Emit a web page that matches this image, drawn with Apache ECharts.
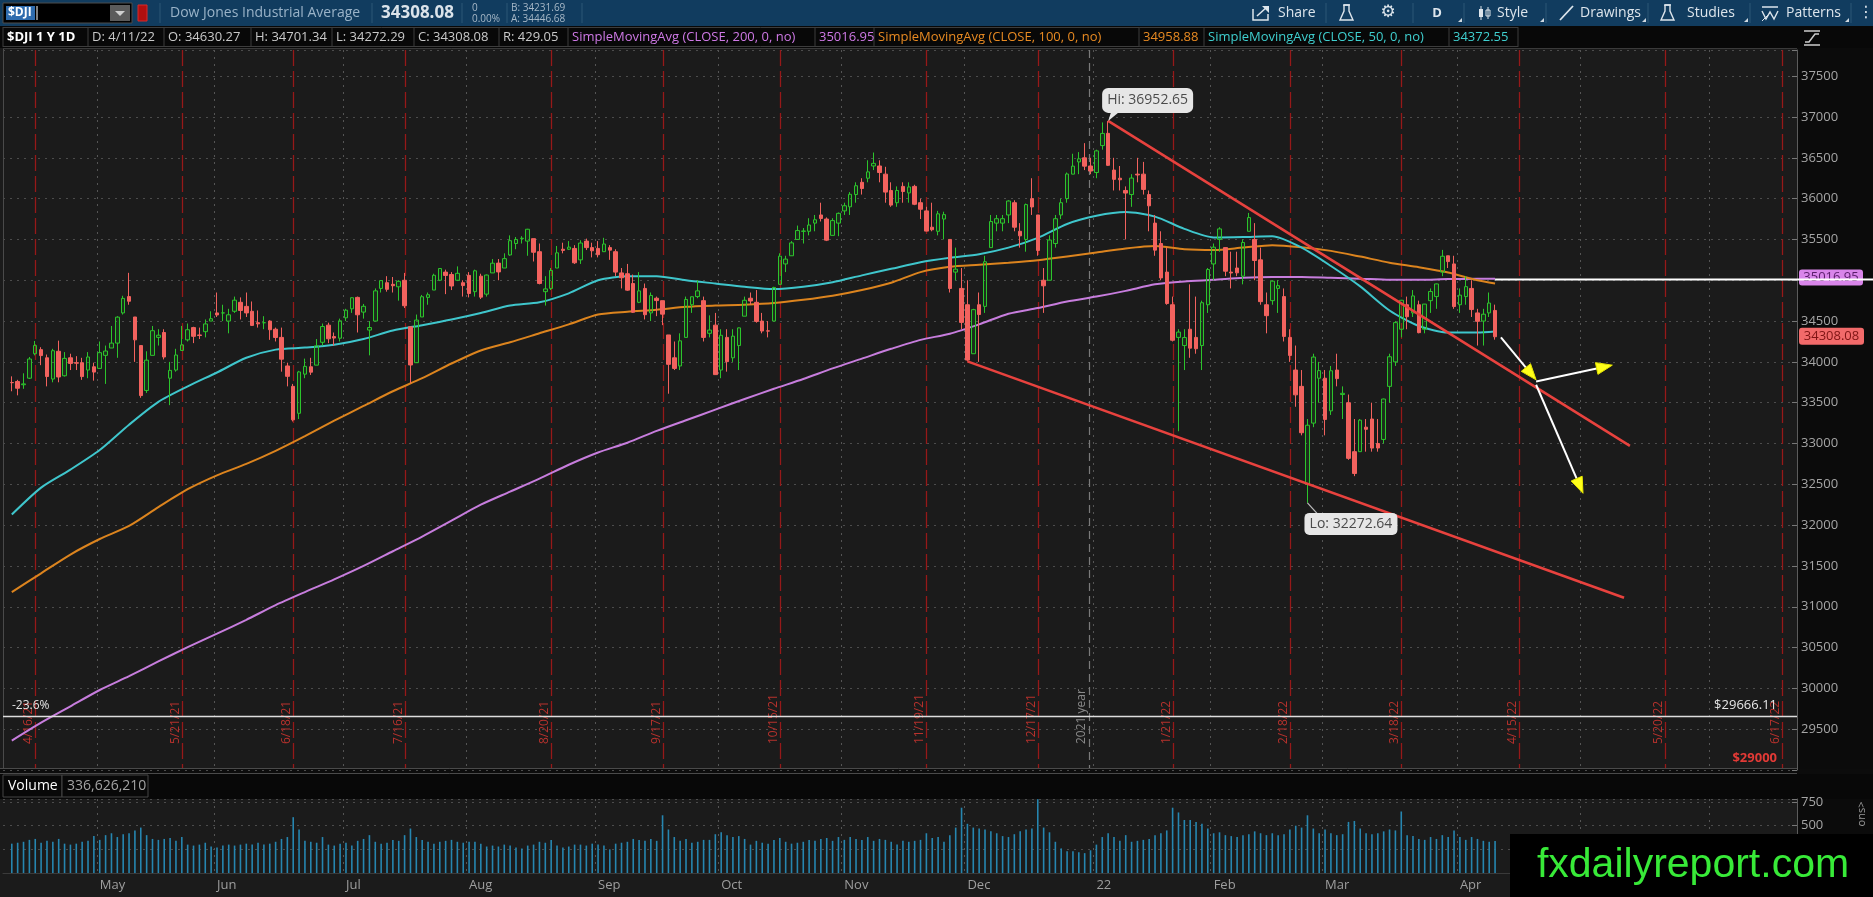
<!DOCTYPE html>
<html>
<head>
<meta charset="utf-8">
<title>$DJI 1 Y 1D</title>
<script src="https://cdn.jsdelivr.net/npm/echarts@6/dist/echarts.min.js"></script>
<style>
html, body { margin: 0; padding: 0; background: #1b1b1b; overflow: hidden; }
#chart { width: 1873px; height: 897px; }
</style>
</head>
<body>
<div id="chart"></div>
<script>
// ---- calendar ----
var holidays = ['2021-05-31', '2021-07-05', '2021-09-06', '2021-11-25', '2021-12-24', '2022-01-17', '2022-02-21'];
var firstDay = '2021-04-12', lastDay = '2022-04-11';
var futureCount = 51;

// ---- daily candles [open, high, low, close] ----
var ohlc = [
  // Apr 2021
  [33747,33823,33640,33745],[33760,33780,33590,33677],[33720,33860,33670,33730],[33800,34060,33790,34035],[34100,34256,34080,34200],
  [34150,34180,33960,34077],[34050,34090,33700,33821],[33790,34160,33750,34137],[34130,34260,33750,33815],[33830,34120,33820,34043],
  [34050,34100,33900,33981],[33990,34070,33900,33984],[33990,34050,33780,33820],[33900,34120,33800,34060],[33940,33990,33770,33875],
  // May
  [33920,34250,33920,34113],[34080,34200,33730,34133],[34170,34440,34170,34230],[34230,34560,34050,34548],[34600,34810,34580,34778],
  [34800,35091,34700,34743],[34550,34550,34000,34270],[34200,34200,33560,33587],[33650,34130,33620,34021],[34080,34440,34080,34382],
  [34300,34400,34200,34327],[34360,34400,34030,34060],[33800,34000,33470,33896],[33900,34160,33880,34084],[34140,34440,34140,34208],
  [34270,34470,34250,34394],[34420,34430,34230,34313],[34330,34420,34280,34323],[34370,34520,34300,34465],[34500,34620,34500,34529],
  // Jun
  [34600,34850,34550,34575],[34600,34700,34500,34600],[34500,34650,34350,34577],[34620,34800,34600,34756],
  [34730,34790,34520,34630],[34680,34850,34550,34600],[34620,34740,34440,34447],[34480,34630,34420,34466],[34480,34560,34400,34480],
  [34500,34510,34270,34394],[34400,34420,34250,34299],[34300,34420,33880,34033],[33950,33990,33700,33823],[33700,33730,33270,33290],
  [33370,33890,33300,33877],[33850,34040,33800,33945],[33940,34050,33840,33874],[33960,34280,33960,34196],[34240,34470,34200,34433],
  [34450,34480,34230,34283],[34310,34360,34200,34292],[34290,34530,34250,34503],
  // Jul
  [34540,34650,34500,34633],[34650,34790,34600,34786],
  [34790,34800,34360,34577],[34610,34710,34530,34681],[34390,34500,34080,34421],[34500,34900,34500,34870],
  [34900,35000,34850,34996],[34970,35050,34860,34889],[34950,35040,34850,34933],[34920,35000,34750,34987],[35000,35090,34660,34688],
  [34430,34430,33740,33962],[33990,34580,33990,34512],[34550,34820,34550,34798],[34790,34850,34700,34823],[34880,35080,34880,35061],
  [35000,35150,34990,35144],[35100,35130,34830,35059],[35070,35100,34880,34930],[35000,35170,34990,35085],[34970,35000,34800,34935],
  // Aug
  [35060,35100,34790,34838],[34860,35130,34800,35116],[35050,35080,34770,34793],[34830,35070,34800,35064],[35090,35260,35090,35209],
  [35210,35260,35000,35102],[35150,35330,35150,35265],[35310,35550,35300,35485],[35450,35530,35380,35500],[35510,35540,35450,35515],
  [35480,35630,35300,35625],[35510,35510,35230,35343],[35350,35450,34950,34961],[34860,35050,34690,34894],[34900,35150,34880,35120],
  [35150,35420,35150,35336],[35380,35460,35330,35366],[35380,35480,35370,35406],[35390,35430,35200,35214],[35250,35490,35200,35456],
  [35480,35510,35370,35400],[35400,35460,35280,35361],
  // Sep
  [35390,35480,35280,35313],[35350,35520,35350,35444],[35400,35430,35250,35369],
  [35350,35380,35050,35100],[35090,35150,34900,35031],[35080,35200,34870,34879],[34960,35070,34600,34608],
  [34730,35100,34720,34870],[34900,34960,34520,34578],[34600,34850,34500,34814],[34780,34800,34560,34751],[34750,34750,34450,34585],
  [34330,34330,33610,33970],[34050,34250,33900,33920],[33950,34350,33900,34258],[34300,34800,34300,34765],[34700,34800,34600,34798],
  [34800,35000,34780,34870],[34750,34800,34250,34300],[34350,34570,34300,34390],[34450,34600,33840,33844],
  // Oct
  [33900,34400,33800,34326],
  [34300,34400,33880,34003],[34050,34400,34000,34315],[34200,34420,33900,34417],[34560,34800,34560,34755],[34780,34850,34700,34746],
  [34730,34880,34480,34496],[34500,34600,34350,34378],[34380,34500,34300,34377],[34500,34920,34500,34912],[34950,35330,34950,35295],
  [35200,35300,35100,35259],[35300,35480,35300,35458],[35500,35670,35500,35609],[35600,35640,35450,35603],[35600,35760,35550,35677],
  [35700,35800,35600,35741],[35800,35950,35720,35757],[35750,35770,35480,35491],[35550,35760,35550,35731],[35700,35830,35540,35820],
  // Nov
  [35850,35950,35800,35913],[35900,36080,35800,36053],[36050,36200,35950,36158],[36200,36250,36050,36124],[36250,36470,36200,36328],
  [36400,36565,36350,36432],[36400,36470,36200,36320],[36300,36390,35950,36080],[36100,36200,35900,35921],[35950,36150,35900,36100],
  [36150,36200,35950,36087],[36070,36200,35950,36143],[36150,36170,35920,35931],[35950,36000,35750,35870],[35850,35900,35600,35602],
  [35650,35950,35600,35619],[35600,35850,35550,35814],[35750,35840,35500,35804],[35500,35500,34850,34899],
  [35100,35400,35000,35136],[34900,35150,34400,34484],
  // Dec
  [34700,35000,34006,34022],[34100,34650,34100,34640],[34700,34850,34000,34580],
  [34680,35300,34600,35227],[35400,35800,35400,35720],[35700,35800,35600,35754],[35700,35800,35600,35754],[35800,35980,35700,35971],
  [35950,35980,35600,35650],[35600,35700,35400,35544],[35500,35940,35350,35927],[36000,36250,35800,35898],[35800,35800,35300,35365],
  [35000,35150,34600,34932],[35000,35550,35000,35493],[35450,35800,35400,35754],[35800,36000,35750,35950],
  [36000,36320,35950,36302],[36300,36550,36300,36398],[36450,36570,36300,36488],[36500,36680,36350,36398],[36400,36500,36300,36338],
  // Jan 2022
  [36320,36600,36250,36585],[36650,36934,36600,36799],[36800,36952.65,36400,36408],[36350,36500,36100,36236],[36250,36400,36100,36231],
  [36100,36150,35500,36068],[36050,36300,35900,36252],[36300,36500,36200,36290],[36300,36450,36050,36113],[36050,36100,35600,35912],
  [35700,35800,35300,35369],[35450,35600,35000,35029],[35100,35400,34700,34715],[34700,34800,34250,34265],
  [34300,34400,33150,34365],[34200,34400,33900,34298],[34400,34950,34050,34168],[34300,34800,34100,34161],[34200,34750,33900,34725],
  [34700,35150,34600,35132],
  // Feb
  [35200,35450,35000,35405],[35500,35650,35350,35629],[35400,35400,35050,35111],[35100,35350,34900,35089],
  [35150,35350,35050,35091],[35050,35500,34950,35463],[35600,35825,35600,35768],[35500,35700,35000,35242],[35250,35400,34700,34738],
  [34700,34850,34350,34566],[34750,35000,34700,34989],[34900,35000,34600,34934],[34800,34900,34250,34312],[34300,34400,34000,34079],
  [33900,34200,33450,33596],[33700,33900,33100,33132],[32500,33300,32272.64,33224],[33250,34100,33200,34059],
  [33800,34000,33500,33893],
  // Mar
  [33800,33900,33100,33295],[33400,33950,33350,33891],[33900,34100,33700,33795],[33600,33700,33300,33615],
  [33500,33600,32800,32818],[32900,33300,32600,32633],[32900,33300,32900,33286],[33200,33300,32900,33174],[33300,33500,32900,32944],
  [33000,33300,32900,32945],[33050,33550,33000,33545],[33700,34100,33500,34063],[34000,34500,33950,34481],[34400,34760,34300,34755],
  [34700,34800,34400,34553],[34600,34880,34550,34808],[34700,34750,34350,34358],[34400,34710,34350,34708],[34750,34900,34600,34862],
  [34800,34960,34650,34955],[35100,35372,35050,35294],[35300,35300,35150,35229],[35200,35300,34650,34678],
  // Apr
  [34700,34900,34600,34818],
  [34800,35050,34700,34922],[34900,35000,34550,34641],[34600,34650,34200,34497],[34500,34650,34200,34584],[34600,34850,34550,34721],
  [34630.27,34701.34,34272.29,34308.08]
];

// ---- daily volume, millions ----
var volume = [
  310,320,330,350,360, 320,340,330,360,310, 300,310,330,340,390,
  350,400,420,380,410, 420,450,480,400,360, 350,360,370,340,380, 300,290,300,320,280,
  270,290,300,290, 300,310,300,320,300, 310,330,360,380,590, 460,340,330,320,380, 300,290,310,
  320,290, 340,360,400,330, 310,320,350,340,400, 470,380,350,330,310, 330,340,350,330,320,
  330,330,310,280,290, 280,300,290,270,260, 290,300,330,320,350, 290,270,280,300,300, 290,310,
  300,290,250, 310,320,330,360, 350,340,360,340,610, 460,380,340,360,320, 330,350,350,410,
  430, 400,380,390,360,300, 340,320,310,350,370, 330,310,320,330,350, 340,360,370,340,380,
  350,380,360,350,380, 340,360,350,330,300, 340,330,340,350,420, 370,380,330,400, 480,690,
  520,480,470, 460,440,420,390,380, 410,440,460,470,780, 480,430,330,260, 230,230,220,210,240,
  300,380,420,380,340, 400,330,340,350,360, 400,420,450,690, 640,560,560,540,520, 470,
  420,430,400,390, 380,400,410,440,420, 400,420,400,410,460, 500,480,610,470, 420,
  460,420,400,410, 540,550,470,420,410, 420,440,460,450,650, 400,390,360,350,380, 360,400,380,450,
  380, 350,380,360,340,330, 337
];

// ---- moving averages read every 5th trading day (index into trading days) ----
var smaIdx = [0,5,10,15,20,25,30,35,40,45,50,55,60,65,70,75,80,85,90,95,100,105,110,115,120,125,
  130,135,140,145,150,155,160,165,170,175,180,185,190,195,200,205,210,215,220,225,230,235,240,245,250,253];
var sma50 = [32130,32460,32680,32920,33230,33510,33700,33870,34050,34150,34175,34210,34280,34385,34450,34520,
  34600,34690,34730,34840,35000,35050,35050,35000,34960,34920,34892,34920,34975,35060,35140,35220,35275,35320,
  35400,35520,35690,35790,35836,35780,35630,35525,35530,35540,35400,35175,34925,34630,34440,34360,34360,34373];
var sma100 = [31180,31410,31640,31830,31990,32220,32440,32610,32750,32910,33090,33280,33460,33640,33800,33980,
  34140,34240,34350,34460,34580,34615,34640,34675,34690,34700,34720,34760,34810,34880,34970,35100,35165,35190,
  35215,35245,35290,35340,35390,35420,35380,35370,35400,35430,35405,35360,35290,35215,35160,35095,35000,34959];
var sma200 = [29360,29580,29780,29980,30150,30330,30505,30670,30840,31020,31180,31335,31500,31680,31860,32055,
  32250,32410,32570,32740,32890,33010,33155,33285,33415,33545,33670,33790,33920,34040,34160,34270,34345,34460,
  34590,34660,34740,34800,34870,34950,34985,35005,35030,35040,35040,35030,35020,35005,35005,35015,35017,35017];

// ---- drawings ----
var expiries = ['2021-04-16','2021-05-21','2021-06-18','2021-07-16','2021-08-20','2021-09-17','2021-10-15',
  '2021-11-19','2021-12-17','2022-01-21','2022-02-18','2022-03-18','2022-04-15','2022-05-20','2022-06-17'];
var yearEnd = '2021-12-31';
var hiPoint = ['2022-01-05', 36952.65];
var loPoint = ['2022-02-24', 32272.64];
var upperChannel = [['2022-01-05', 36952.65], ['2022-05-12', 32970]];
var lowerChannel = [['2021-12-01', 34006], ['2022-05-11', 31110]];
var arrows = [
  [['2022-04-12', 34300], ['2022-04-20', 33780]],
  [['2022-04-20', 33760], ['2022-05-09', 33960]],
  [['2022-04-20', 33720], ['2022-05-02', 32390]]
];
var sma200Last = 35016.95, lastClose = 34308.08, fibLevel = 29666.11, alertLevel = 29000;
var monthNames = ['Jan','Feb','Mar','Apr','May','Jun','Jul','Aug','Sep','Oct','Nov','Dec'];

// ---- build categories ----
function ymd(d) { return d.toISOString().slice(0, 10); }
var tradingDays = [];
var cur = new Date(firstDay + 'T00:00:00Z');
var end = new Date(lastDay + 'T00:00:00Z');
while (cur <= end) {
  var wd = cur.getUTCDay(), s = ymd(cur);
  if (wd > 0 && wd < 6 && holidays.indexOf(s) < 0) tradingDays.push(s);
  cur.setUTCDate(cur.getUTCDate() + 1);
}
var futureDays = [];
while (futureDays.length < futureCount) {
  var wd2 = cur.getUTCDay();
  if (wd2 > 0 && wd2 < 6) futureDays.push(ymd(cur));
  cur.setUTCDate(cur.getUTCDate() + 1);
}
var cats = [''].concat(tradingDays, futureDays);
function ci(date) { return cats.indexOf(date); }

var candleData = cats.map(function (c, k) {
  var r = k >= 1 ? ohlc[k - 1] : null;
  return r ? [r[0], r[3], r[2], r[1]] : '-';
});
var volData = cats.map(function (c, k) {
  return (k >= 1 && volume[k - 1] != null) ? volume[k - 1] : '-';
});
function smaLine(vals) {
  var a = cats.map(function () { return '-'; });
  smaIdx.forEach(function (ix, j) { a[ix + 1] = vals[j]; });
  return a;
}

var monthStarts = {};
for (var k = 2; k < cats.length; k++) {
  if (cats[k].slice(0, 7) !== cats[k - 1].slice(0, 7)) monthStarts[cats[k]] = true;
}
function isMonthStart(i, v) { return !!monthStarts[v]; }
function monthLabel(v) {
  var m = +v.slice(5, 7);
  return m === 1 ? v.slice(2, 4) : monthNames[m - 1];
}

var FONT = 'Open Sans';
var chart = echarts.init(document.getElementById('chart'));

chart.setOption({
  backgroundColor: '#1b1b1b',
  animation: false,
  textStyle: { fontFamily: FONT },
  grid: [
    { left: 3, top: 50, width: 1794, height: 720, outerBoundsMode: 'none' },
    { left: 3, top: 799, width: 1794, height: 74, outerBoundsMode: 'none' }
  ],
  xAxis: [
    {
      type: 'category', gridIndex: 0, data: cats, boundaryGap: true,
      axisLine: { show: false }, axisTick: { show: false }, axisLabel: { show: false },
      splitLine: { show: true, interval: isMonthStart, lineStyle: { color: '#555555', type: [2, 5], width: 1 } }
    },
    {
      type: 'category', gridIndex: 1, data: cats, boundaryGap: true,
      axisLine: { show: true, lineStyle: { color: '#3a3a3a' } },
      axisTick: { show: false },
      axisLabel: { show: true, interval: isMonthStart, formatter: monthLabel, color: '#9e9e9e',
        fontSize: 13, fontFamily: FONT, align: 'left', margin: 6 },
      splitLine: { show: true, interval: isMonthStart, lineStyle: { color: '#555555', type: [2, 5], width: 1 } }
    }
  ],
  yAxis: [
    {
      type: 'value', gridIndex: 0, position: 'right', min: 29000, max: 37821, interval: 500,
      axisLine: { show: true, lineStyle: { color: '#5c5c5c' } },
      axisTick: { show: true, inside: true, length: 5, lineStyle: { color: '#777777' } },
      axisLabel: { color: '#a6a6a6', fontSize: 13, fontFamily: FONT, margin: 4,
        formatter: function (v) { return (v % 500 === 0 && v > 29000 && v <= 37500) ? String(v) : ''; } },
      splitLine: { show: true, lineStyle: { color: '#4c4c4c', type: [2, 5], width: 1 } }
    },
    {
      type: 'value', gridIndex: 1, position: 'right', min: 0, max: 782, interval: 250,
      axisLine: { show: true, lineStyle: { color: '#5c5c5c' } },
      axisTick: { show: true, inside: true, length: 5, lineStyle: { color: '#777777' } },
      axisLabel: { color: '#a6a6a6', fontSize: 13, fontFamily: FONT, margin: 4,
        formatter: function (v) { return (v > 0 && v % 250 === 0) ? String(v) : ''; } },
      splitLine: { show: true, lineStyle: { color: '#4c4c4c', type: [2, 5], width: 1 } }
    }
  ],
  series: [
    {
      name: 'SMA200', type: 'line', xAxisIndex: 0, yAxisIndex: 0, data: smaLine(sma200),
      connectNulls: true, smooth: 0.25, symbol: 'none', z: 3,
      lineStyle: { color: '#c77ddd', width: 2 }
    },
    {
      name: 'SMA100', type: 'line', xAxisIndex: 0, yAxisIndex: 0, data: smaLine(sma100),
      connectNulls: true, smooth: 0.25, symbol: 'none', z: 3,
      lineStyle: { color: '#dc841e', width: 2 }
    },
    {
      name: 'SMA50', type: 'line', xAxisIndex: 0, yAxisIndex: 0, data: smaLine(sma50),
      connectNulls: true, smooth: 0.25, symbol: 'none', z: 3,
      lineStyle: { color: '#3fc6cc', width: 2 }
    },
    {
      name: '$DJI', type: 'candlestick', xAxisIndex: 0, yAxisIndex: 0, data: candleData,
      barWidth: 4, z: 4,
      itemStyle: { color: 'rgba(40,190,40,0.12)', color0: '#f2625e', borderColor: '#2cc42c',
        borderColor0: '#f2625e', borderWidth: 1 }
    },
    {
      name: 'upper', type: 'line', xAxisIndex: 0, yAxisIndex: 0, symbol: 'none', z: 5,
      data: upperChannel.map(function (p) { return [ci(p[0]), p[1]]; }),
      lineStyle: { color: '#e8423e', width: 2.6 }
    },
    {
      name: 'lower', type: 'line', xAxisIndex: 0, yAxisIndex: 0, symbol: 'none', z: 5,
      data: lowerChannel.map(function (p) { return [ci(p[0]), p[1]]; }),
      lineStyle: { color: '#e8423e', width: 2.6 }
    },
    {
      name: 'Volume', type: 'bar', xAxisIndex: 1, yAxisIndex: 1, data: volData,
      barWidth: 1.6, itemStyle: { color: '#2686b0' }
    }
  ]
});

// ---------- overlay drawn from the chart's own scales ----------
function pt(date, val) { return chart.convertToPixel({ gridIndex: 0 }, [ci(date), val]); }
function yOf(val) { return chart.convertToPixel({ yAxisIndex: 0 }, val); }
function xOf(date) { return chart.convertToPixel({ xAxisIndex: 0 }, ci(date)); }

function T(x, y, text, o) {
  o = o || {};
  return {
    type: 'text', x: x, y: y, z: o.z == null ? 20 : o.z, rotation: o.rotation || 0, silent: true,
    style: {
      text: text, fill: o.fill || '#d8d8d8', fontSize: o.size || 13, fontFamily: o.family || FONT,
      fontWeight: o.weight || 'normal',
      align: o.align || 'left', textAlign: o.align || 'left',
      verticalAlign: o.valign || 'middle', textVerticalAlign: o.valign || 'middle'
    }
  };
}
function R(x, y, w, h, fill, o) {
  o = o || {};
  return { type: 'rect', z: o.z == null ? -1 : o.z, silent: true,
    shape: { x: x, y: y, width: w, height: h, r: o.r || 0 },
    style: { fill: fill, stroke: o.stroke || null, lineWidth: o.lw || 1 } };
}
function L(x1, y1, x2, y2, color, o) {
  o = o || {};
  return { type: 'line', z: o.z == null ? 1 : o.z, silent: true,
    shape: { x1: x1, y1: y1, x2: x2, y2: y2 },
    style: { stroke: color, lineWidth: o.lw || 1, lineDash: o.dash || null } };
}
function P(points, fill, o) {
  o = o || {};
  return { type: o.open ? 'polyline' : 'polygon', z: o.z == null ? 20 : o.z, silent: true,
    shape: { points: points },
    style: { fill: o.open ? null : fill, stroke: o.stroke || (o.open ? fill : null), lineWidth: o.lw || 1 } };
}

var g = [];
var mainTop = 50, mainBot = 770, plotRight = 1797;

// panels
g.push(R(1797, 48, 76, 849, '#0b0b0b'));
g.push(R(0, 0, 1873, 26, '#113c5f'));
g.push(R(0, 26, 1873, 22, '#080808'));
g.push(R(0, 769, 1873, 5, '#0c0c0c'));
g.push(L(0, 768.5, 1797, 768.5, '#4a4a4a', { z: 6 }));
g.push(L(0, 773.5, 1797, 773.5, '#4a4a4a', { z: 6 }));
g.push(R(0, 774, 1873, 25, '#080808'));
g.push(L(3.5, 48, 3.5, 768, '#4a4a4a', { z: 6 }));
g.push(L(3, 48.5, 1797, 48.5, '#3a3a3a', { z: 6 }));

// toolbar left
g.push(R(3, 3, 129, 20, '#000000', { stroke: '#4d4d4d', z: 10 }));
g.push(R(6, 6, 29, 14, '#2f6cae', { z: 11 }));
g.push(T(8, 13, '$DJI', { fill: '#ffffff', size: 12, weight: 'bold', z: 12 }));
g.push(L(37, 6, 37, 20, '#ffffff', { z: 12 }));
g.push(R(110, 5, 20, 16, '#5b5b5b', { z: 11 }));
g.push(P([[115, 11], [125, 11], [120, 16]], '#cfcfcf', { z: 12 }));
g.push(R(138, 5, 9, 16, '#b00f0f', { stroke: '#d92a2a', z: 11 }));
[160, 372, 462, 507, 582].forEach(function (x) { g.push(L(x, 3, x, 23, '#2c5777', { z: 10 })); });
g.push(T(170, 13, 'Dow Jones Industrial Average', { fill: '#9ab3c8', size: 14, z: 12 }));
g.push(T(381, 13, '34308.08', { fill: '#dbe3ea', size: 17, weight: 'bold', z: 12 }));
g.push(T(472, 8, '0', { fill: '#a7b8c7', size: 10, z: 12 }));
g.push(T(472, 19, '0.00%', { fill: '#a7b8c7', size: 10, z: 12 }));
g.push(T(511, 8, 'B: 34231.69', { fill: '#a7b8c7', size: 10, z: 12 }));
g.push(T(511, 19, 'A: 34446.68', { fill: '#a7b8c7', size: 10, z: 12 }));

// toolbar right
var tb = '#dde5ec';
[1326, 1413, 1464, 1546, 1648, 1750, 1851].forEach(function (x) { g.push(L(x, 3, x, 23, '#2c5777', { z: 10 })); });
[1458, 1540, 1642, 1744, 1845].forEach(function (x) { g.push(P([[x, 22], [x + 4, 22], [x + 4, 18]], '#cfd8e0', { z: 12 })); });
g.push(P([[1253, 9], [1253, 20], [1268, 20], [1268, 14]], tb, { open: true, lw: 1.5, z: 12 }));
g.push(L(1257, 16, 1267, 7, tb, { lw: 1.6, z: 12 }));
g.push(P([[1262, 6], [1269, 6], [1269, 13]], tb, { z: 12 }));
g.push(T(1278, 13, 'Share', { fill: tb, size: 14, z: 12 }));
function flask(x) {
  g.push(P([[x + 4, 5], [x + 9, 5], [x + 9, 11], [x + 13, 20], [x, 20], [x + 4, 11], [x + 4, 5]], tb, { open: true, lw: 1.4, z: 12 }));
  g.push(L(x + 3, 5, x + 10, 5, tb, { lw: 1.4, z: 12 }));
}
flask(1340);
g.push(T(1388, 13, '\u2699', { fill: tb, size: 17, family: 'DejaVu Sans', align: 'center', z: 12 }));
g.push(T(1437, 13, 'D', { fill: tb, size: 13, weight: 'bold', align: 'center', z: 12 }));
g.push(L(1481, 6, 1481, 20, tb, { z: 12 }));
g.push(R(1479, 9, 4, 8, tb, { z: 12 }));
g.push(L(1488, 7, 1488, 19, tb, { z: 12 }));
g.push(R(1486, 10, 4, 6, 'none', { stroke: tb, z: 12 }));
g.push(T(1497, 13, 'Style', { fill: tb, size: 14, z: 12 }));
g.push(L(1560, 20, 1573, 6, tb, { lw: 1.8, z: 12 }));
g.push(T(1580, 13, 'Drawings', { fill: tb, size: 14, z: 12 }));
flask(1661);
g.push(T(1687, 13, 'Studies', { fill: tb, size: 14, z: 12 }));
g.push(L(1762, 7, 1778, 7, tb, { lw: 1.5, z: 12 }));
g.push(P([[1762, 11], [1766, 19], [1770, 12], [1774, 19], [1778, 11]], tb, { open: true, lw: 1.4, z: 12 }));
g.push(L(1762, 21, 1770, 13, tb, { z: 12 }));
g.push(T(1786, 13, 'Patterns', { fill: tb, size: 14, z: 12 }));
g.push(T(1866, 13, '\u22EE', { fill: tb, size: 16, family: 'DejaVu Sans', align: 'center', z: 12 }));

// info bar
var infoCells = [
  [7, '$DJI 1 Y 1D', '#ffffff', 'bold'], [92, 'D: 4/11/22', '#c9c9c9'], [168, 'O: 34630.27', '#c9c9c9'],
  [255, 'H: 34701.34', '#c9c9c9'], [336, 'L: 34272.29', '#c9c9c9'], [418, 'C: 34308.08', '#c9c9c9'],
  [503, 'R: 429.05', '#c9c9c9'], [572, 'SimpleMovingAvg (CLOSE, 200, 0, no)', '#cf79e6'],
  [819, '35016.95', '#cf79e6'], [878, 'SimpleMovingAvg (CLOSE, 100, 0, no)', '#e88a22'],
  [1143, '34958.88', '#e88a22'], [1208, 'SimpleMovingAvg (CLOSE, 50, 0, no)', '#3fcfcf'],
  [1453, '34372.55', '#3fcfcf']
];
infoCells.forEach(function (c) {
  g.push(T(c[0], 37.5, c[1], { fill: c[2], size: 13, weight: c[3] || 'normal', z: 12 }));
});
[3, 88, 164, 251, 332, 414, 499, 568, 815, 874, 1139, 1204, 1449, 1518].forEach(function (x) {
  g.push(L(x, 27, x, 47, '#3d3d3d', { z: 11 }));
});
g.push(L(3, 27.5, 1518, 27.5, '#3d3d3d', { z: 11 }));
g.push(L(3, 46.5, 1518, 46.5, '#3d3d3d', { z: 11 }));
g.push(L(1804, 31, 1820, 31, '#cccccc', { lw: 1.5, z: 12 }));
g.push(L(1804, 45, 1820, 45, '#cccccc', { lw: 1.5, z: 12 }));
g.push(P([[1805, 42], [1809, 42], [1815, 34], [1819, 34]], '#cccccc', { open: true, lw: 1.5, z: 12 }));

// volume header
g.push(R(3, 775, 59, 22, '#080808', { stroke: '#444444', z: 10 }));
g.push(R(62, 775, 86, 22, '#080808', { stroke: '#444444', z: 10 }));
g.push(T(8, 786, 'Volume', { fill: '#ffffff', size: 14, z: 12 }));
g.push(T(67, 786, '336,626,210', { fill: '#a3a3a3', size: 14, z: 12 }));
g.push(T(1862, 814, 'ons>', { fill: '#9a9a9a', size: 11, rotation: Math.PI / 2, align: 'center', z: 12 }));

// expiration lines and labels
expiries.forEach(function (d) {
  var x = Math.round(xOf(d)) + 0.5;
  g.push(L(x, mainTop, x, mainBot - 2, '#961919', { lw: 1.3, dash: [16, 5], z: 1 }));
  var p = d.split('-');
  var lab = (+p[1]) + '/' + (+p[2]) + '/' + p[0].slice(2);
  g.push(T(x - 7, 744, lab, { fill: '#b8322d', size: 12, rotation: Math.PI / 2, z: 2 }));
});
var yx = Math.round(xOf(yearEnd)) - 1.5;
g.push(L(yx, mainTop, yx, mainBot - 2, '#7a7a7a', { lw: 1.2, dash: [8, 5], z: 1 }));
g.push(T(yx - 8, 744, '2021 year', { fill: '#8a8a8a', size: 12, rotation: Math.PI / 2, z: 2 }));

// fib level and alert label
var fy = Math.round(yOf(fibLevel)) + 0.5;
g.push(L(3, fy, plotRight, fy, '#dedede', { lw: 1.6, z: 6 }));
g.push(T(12, fy - 11, '-23.6%', { fill: '#e2e2e2', size: 12, z: 7 }));
g.push(T(1777, fy - 11, '$29666.11', { fill: '#e6e6e6', size: 13, align: 'right', z: 7 }));
g.push(T(1777, yOf(alertLevel) - 12, '$29000', { fill: '#e33a36', size: 13, weight: 'bold', align: 'right', z: 7 }));

// SMA200 level line and axis bubbles
var sy = Math.round(yOf(sma200Last)) + 0.5;
var lastX = xOf(tradingDays[tradingDays.length - 1]);
g.push(R(1799, sy - 10, 64, 16, '#d985ea', { r: 3, z: 8 }));
g.push(T(1831, sy - 2, '35016.95', { fill: '#5a1d6b', size: 13, align: 'center', z: 9 }));
g.push(L(lastX, sy, 1873, sy, '#ffffff', { lw: 2, z: 10 }));
var cy = yOf(lastClose);
g.push(R(1799, cy - 9, 65, 17, '#f26a6a', { r: 3, z: 8 }));
g.push(T(1831.5, cy - 0.5, '34308.08', { fill: '#7e1414', size: 13, align: 'center', z: 9 }));

// hi / lo bubbles
var hp = pt(hiPoint[0], hiPoint[1]);
g.push(R(hp[0] - 6, hp[1] - 33, 91, 25, '#e6e6e6', { r: 6, z: 12 }));
g.push(P([[hp[0], hp[1]], [hp[0] + 3, hp[1] - 9], [hp[0] + 11, hp[1] - 9]], '#e6e6e6', { z: 12 }));
g.push(T(hp[0] + 39.5, hp[1] - 20.5, 'Hi: ' + hiPoint[1].toFixed(2), { fill: '#4b4b4b', size: 14, align: 'center', z: 13 }));
var lp = pt(loPoint[0], loPoint[1]);
g.push(L(lp[0], lp[1], lp[0] + 10, lp[1] + 11, '#bdbdbd', { lw: 1.2, z: 12 }));
g.push(R(lp[0] - 3, lp[1] + 10, 93, 22, '#e6e6e6', { r: 5, z: 12 }));
g.push(T(lp[0] + 43.5, lp[1] + 21, 'Lo: ' + loPoint[1].toFixed(2), { fill: '#4b4b4b', size: 14, align: 'center', z: 13 }));

// forecast arrows
arrows.forEach(function (a) {
  var p1 = pt(a[0][0], a[0][1]), p2 = pt(a[1][0], a[1][1]);
  var ang = Math.atan2(p2[1] - p1[1], p2[0] - p1[0]);
  var len = 16, wid = 6;
  var bx = p2[0] - len * Math.cos(ang), by = p2[1] - len * Math.sin(ang);
  var nx = -Math.sin(ang) * wid, ny = Math.cos(ang) * wid;
  g.push(L(p1[0], p1[1], bx, by, '#ffffff', { lw: 2, z: 14 }));
  g.push(P([[p2[0], p2[1]], [bx + nx, by + ny], [bx - nx, by - ny]], '#ffff1a', { stroke: '#e6e600', z: 15 }));
});

// watermark
g.push(R(1510, 834, 363, 63, '#000000', { z: 30 }));
g.push(T(1693, 866, 'fxdailyreport.com', { fill: '#38ea38', size: 41, family: 'Liberation Sans', align: 'center', z: 31 }));

chart.setOption({ graphic: g });
</script>
</body>
</html>
